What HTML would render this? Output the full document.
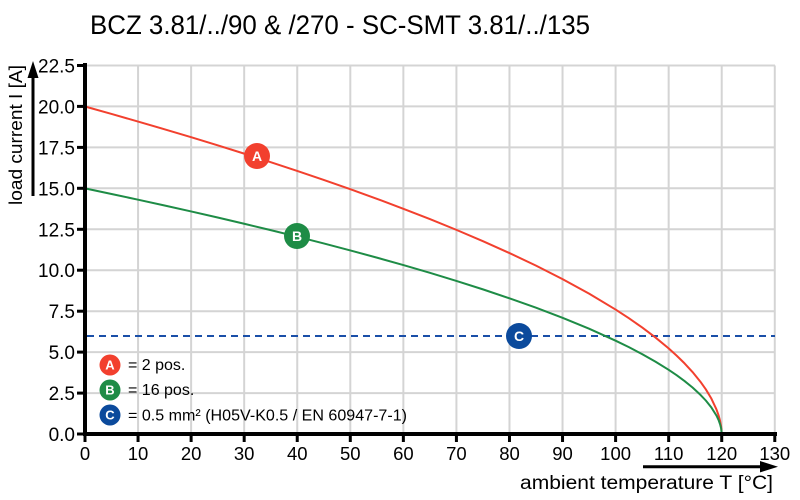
<!DOCTYPE html>
<html>
<head>
<meta charset="utf-8">
<style>
html,body{margin:0;padding:0;background:#fff;}
svg{display:block;}
text{font-family:"Liberation Sans",Arial,sans-serif;fill:#000;}
</style>
</head>
<body>
<svg width="800" height="500" viewBox="0 0 800 500" xmlns="http://www.w3.org/2000/svg">
<rect width="800" height="500" fill="#fff"/>
<!-- title -->
<text x="90" y="34" font-size="27" textLength="500" lengthAdjust="spacingAndGlyphs">BCZ 3.81/../90 &amp; /270 - SC-SMT 3.81/../135</text>

<!-- grid -->
<g stroke="#d4d4d4" stroke-width="2">
<line x1="138.06" y1="65.5" x2="138.06" y2="434"/>
<line x1="191.12" y1="65.5" x2="191.12" y2="434"/>
<line x1="244.18" y1="65.5" x2="244.18" y2="434"/>
<line x1="297.24" y1="65.5" x2="297.24" y2="434"/>
<line x1="350.3" y1="65.5" x2="350.3" y2="434"/>
<line x1="403.36" y1="65.5" x2="403.36" y2="434"/>
<line x1="456.42" y1="65.5" x2="456.42" y2="434"/>
<line x1="509.48" y1="65.5" x2="509.48" y2="434"/>
<line x1="562.54" y1="65.5" x2="562.54" y2="434"/>
<line x1="615.6" y1="65.5" x2="615.6" y2="434"/>
<line x1="668.66" y1="65.5" x2="668.66" y2="434"/>
<line x1="721.72" y1="65.5" x2="721.72" y2="434"/>
<line x1="774.78" y1="65.5" x2="774.78" y2="434"/>
<line x1="85" y1="65.5" x2="775" y2="65.5"/>
<line x1="85" y1="106.4" x2="775" y2="106.4"/>
<line x1="85" y1="147.4" x2="775" y2="147.4"/>
<line x1="85" y1="188.3" x2="775" y2="188.3"/>
<line x1="85" y1="229.3" x2="775" y2="229.3"/>
<line x1="85" y1="270.2" x2="775" y2="270.2"/>
<line x1="85" y1="311.2" x2="775" y2="311.2"/>
<line x1="85" y1="352.1" x2="775" y2="352.1"/>
<line x1="85" y1="393.1" x2="775" y2="393.1"/>
</g>

<!-- dashed line at 6 A -->
<line x1="87" y1="336" x2="775" y2="336" stroke="#1a4fa8" stroke-width="2" stroke-dasharray="7,5"/>

<!-- curves -->
<polyline fill="none" stroke="#f2402e" stroke-width="2" stroke-linejoin="round"
points="85,106.5 111.53,113.93 138.06,121.53 164.59,129.29 191.12,137.22 217.65,145.31 244.18,153.63 270.71,162.14 297.24,170.89 323.77,179.93 350.3,189.19 376.83,198.79 403.36,208.78 429.89,219.09 456.42,229.87 482.95,241.17 509.48,253.06 536.01,265.63 562.54,279.09 589.07,293.6 615.6,309.55 628.87,318.2 642.13,327.46 655.4,337.45 668.66,348.39 676.62,355.6 684.58,363.39 692.54,372.04 700.5,381.83 705.8,389.33 711.11,398.11 716.41,409.31 718.54,415.27 720.13,421.13 721.19,426.89 721.72,434"/>
<polyline fill="none" stroke="#1e8c46" stroke-width="2" stroke-linejoin="round"
points="85,188.4 111.53,193.97 138.06,199.67 164.59,205.49 191.12,211.44 217.65,217.5 244.18,223.74 270.71,230.13 297.24,236.68 323.77,243.46 350.3,250.41 376.83,257.61 403.36,265.1 429.89,272.84 456.42,280.92 482.95,289.39 509.48,298.31 536.01,307.74 562.54,317.83 589.07,328.71 615.6,340.67 628.87,347.16 642.13,354.11 655.4,361.6 668.66,369.8 676.62,375.2 684.58,381.05 692.54,387.53 700.5,394.88 705.8,400.5 711.11,407.08 716.41,415.48 718.54,419.95 720.13,424.35 721.19,428.67 721.72,434"/>

<!-- axes -->
<line x1="85" y1="63" x2="85" y2="436" stroke="#000" stroke-width="4"/>
<line x1="83" y1="434" x2="777" y2="434" stroke="#000" stroke-width="4"/>
<g stroke="#000" stroke-width="3">
<line x1="77" y1="65.5" x2="85" y2="65.5"/>
<line x1="77" y1="106.4" x2="85" y2="106.4"/>
<line x1="77" y1="147.4" x2="85" y2="147.4"/>
<line x1="77" y1="188.3" x2="85" y2="188.3"/>
<line x1="77" y1="229.3" x2="85" y2="229.3"/>
<line x1="77" y1="270.2" x2="85" y2="270.2"/>
<line x1="77" y1="311.2" x2="85" y2="311.2"/>
<line x1="77" y1="352.1" x2="85" y2="352.1"/>
<line x1="77" y1="393.1" x2="85" y2="393.1"/>
<line x1="77" y1="434" x2="85" y2="434"/>
<line x1="85" y1="434" x2="85" y2="442"/>
<line x1="138.06" y1="434" x2="138.06" y2="442"/>
<line x1="191.12" y1="434" x2="191.12" y2="442"/>
<line x1="244.18" y1="434" x2="244.18" y2="442"/>
<line x1="297.24" y1="434" x2="297.24" y2="442"/>
<line x1="350.3" y1="434" x2="350.3" y2="442"/>
<line x1="403.36" y1="434" x2="403.36" y2="442"/>
<line x1="456.42" y1="434" x2="456.42" y2="442"/>
<line x1="509.48" y1="434" x2="509.48" y2="442"/>
<line x1="562.54" y1="434" x2="562.54" y2="442"/>
<line x1="615.6" y1="434" x2="615.6" y2="442"/>
<line x1="668.66" y1="434" x2="668.66" y2="442"/>
<line x1="721.72" y1="434" x2="721.72" y2="442"/>
<line x1="774.78" y1="434" x2="774.78" y2="442"/>
</g>

<!-- y tick labels -->
<g font-size="19" text-anchor="end">
<text x="75" y="72.5">22.5</text>
<text x="75" y="113.4">20.0</text>
<text x="75" y="154.4">17.5</text>
<text x="75" y="195.3">15.0</text>
<text x="75" y="236.3">12.5</text>
<text x="75" y="277.2">10.0</text>
<text x="75" y="318.2">7.5</text>
<text x="75" y="359.1">5.0</text>
<text x="75" y="400.1">2.5</text>
<text x="75" y="441">0.0</text>
</g>
<!-- x tick labels -->
<g font-size="18.5" text-anchor="middle">
<text x="85" y="460">0</text>
<text x="138.06" y="460">10</text>
<text x="191.12" y="460">20</text>
<text x="244.18" y="460">30</text>
<text x="297.24" y="460">40</text>
<text x="350.3" y="460">50</text>
<text x="403.36" y="460">60</text>
<text x="456.42" y="460">70</text>
<text x="509.48" y="460">80</text>
<text x="562.54" y="460">90</text>
<text x="615.6" y="460">100</text>
<text x="668.66" y="460">110</text>
<text x="721.72" y="460">120</text>
<text x="774.78" y="460">130</text>
</g>

<!-- y axis label + arrow -->
<text x="0" y="0" font-size="18" text-anchor="middle" transform="translate(22,135) rotate(-90)" textLength="140" lengthAdjust="spacingAndGlyphs">load current I [A]</text>
<line x1="33" y1="196" x2="33" y2="74" stroke="#000" stroke-width="3"/>
<polygon points="33,61 27.5,78 38.5,78" fill="#000"/>

<!-- x axis label + arrow -->
<text x="773" y="489" font-size="19" text-anchor="end" textLength="253" lengthAdjust="spacingAndGlyphs">ambient temperature T [°C]</text>
<line x1="643" y1="466.7" x2="764" y2="466.7" stroke="#000" stroke-width="3"/>
<polygon points="778,466.7 760,461 760,472.4" fill="#000"/>

<!-- curve markers -->
<circle cx="257" cy="156" r="13" fill="#f2402e"/>
<text x="257" y="161" font-size="14" font-weight="bold" text-anchor="middle" style="fill:#fff">A</text>
<circle cx="297" cy="236" r="13" fill="#1e8c46"/>
<text x="297" y="241" font-size="14" font-weight="bold" text-anchor="middle" style="fill:#fff">B</text>
<circle cx="519" cy="336" r="13" fill="#0b4a9c"/>
<text x="519" y="341" font-size="14" font-weight="bold" text-anchor="middle" style="fill:#fff">C</text>

<!-- legend -->
<circle cx="110" cy="365" r="10.5" fill="#f2402e"/>
<text x="110" y="369.5" font-size="13" font-weight="bold" text-anchor="middle" style="fill:#fff">A</text>
<circle cx="110" cy="390" r="10.5" fill="#1e8c46"/>
<text x="110" y="394.5" font-size="13" font-weight="bold" text-anchor="middle" style="fill:#fff">B</text>
<circle cx="110" cy="415" r="10.5" fill="#0b4a9c"/>
<text x="110" y="419.5" font-size="13" font-weight="bold" text-anchor="middle" style="fill:#fff">C</text>
<g font-size="16">
<text x="128" y="370">= 2 pos.</text>
<text x="128" y="395">= 16 pos.</text>
<text x="128" y="420.5" textLength="279" lengthAdjust="spacingAndGlyphs">= 0.5 mm² (H05V-K0.5 / EN 60947-7-1)</text>
</g>
</svg>
</body>
</html>
